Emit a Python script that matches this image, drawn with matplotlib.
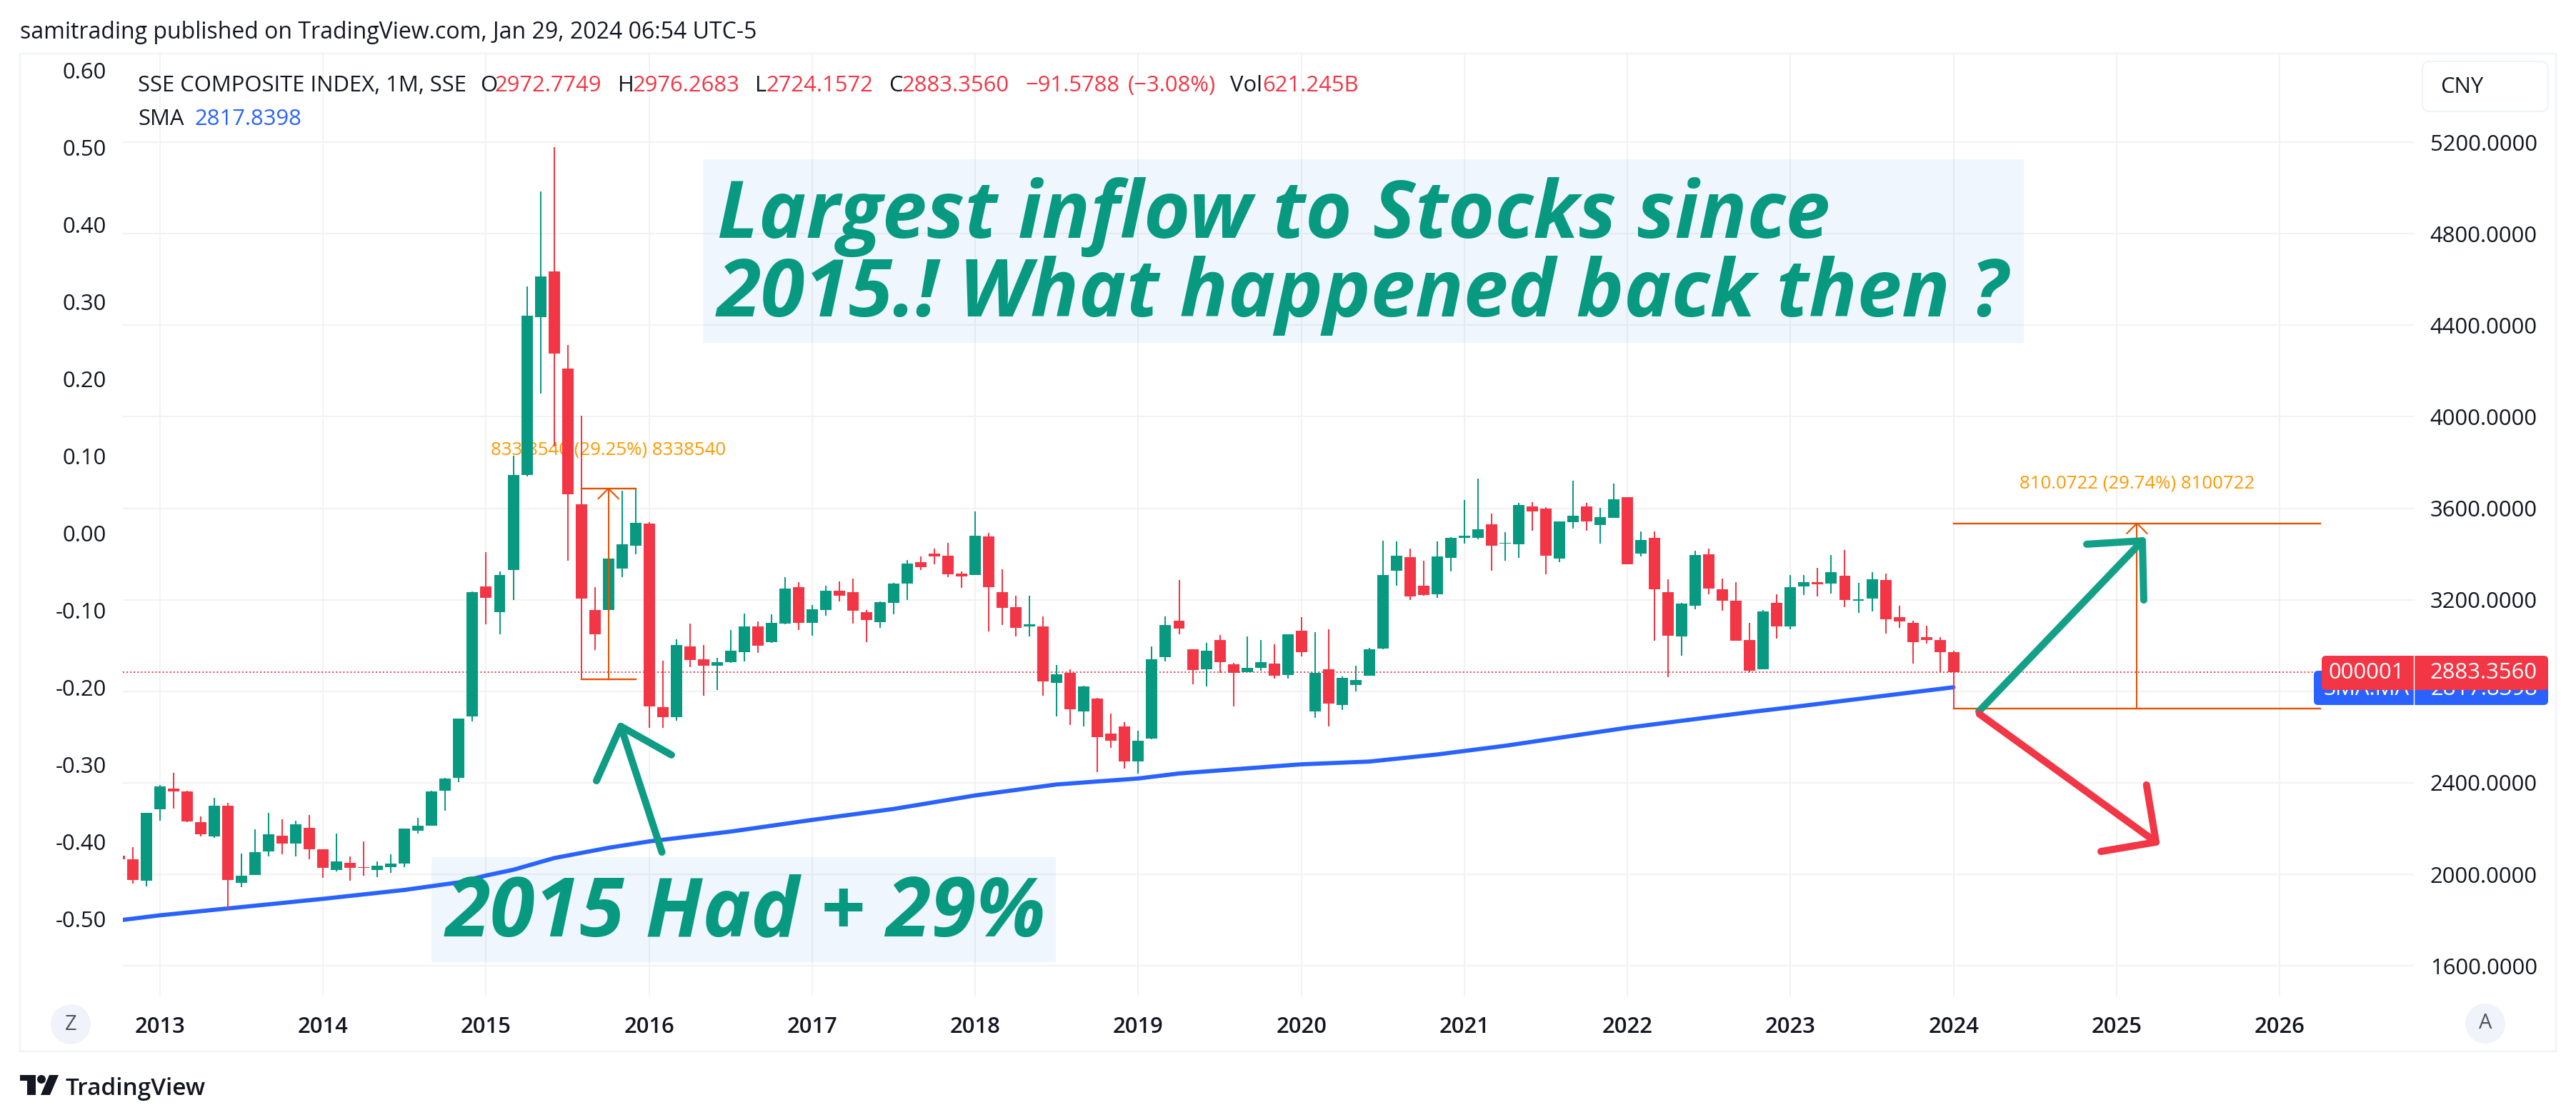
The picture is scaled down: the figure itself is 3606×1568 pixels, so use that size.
import matplotlib
matplotlib.use("Agg")
import matplotlib.pyplot as plt
from matplotlib.patches import Circle, FancyBboxPatch, Polygon, Rectangle

# monthly SSE composite, Oct 2012 .. Jan 2024
opens = [2082, 2067, 1972, 2283, 2374, 2362, 2227, 2165, 2299, 1962, 1996, 2099, 2170, 2133, 2202,
         2108, 2018, 2049, 2033, 2018, 2033, 2046, 2190, 2214, 2365, 2423, 2690,
         3259, 3146, 3329, 3745, 4437, 4634, 4212, 3616, 3156, 3156, 3335, 3437,
         3534, 2731, 2686, 2996, 2941, 2913, 2929, 2971, 3084, 3016, 3096, 3255,
         3100, 3156, 3239, 3233, 3146, 3102, 3188, 3271, 3365, 3403, 3393, 3315,
         3309, 3477, 3235, 3169, 3084, 3084, 2838, 2882, 2713, 2769, 2616, 2647,
         2494, 2594, 2950, 3109, 2984, 2897, 3024, 2919, 2885, 2904, 2922, 2871,
         3065, 2713, 2897, 2741, 2828, 2869, 2987, 3328, 3387, 3262, 3225, 3384,
         3471, 3471, 3531, 3445, 3444, 3608, 3599, 3380, 3540, 3608, 3527, 3558,
         3649, 3402, 3471, 3233, 3040, 3174, 3399, 3246, 3196, 3024, 2896, 3186,
         3083, 3258, 3277, 3271, 3305, 3197, 3205, 3286, 3124, 3099, 3036, 3024,
         2972.77]
highs = [2082, 2120, 2268, 2389, 2443, 2367, 2252, 2333, 2312, 2090, 2196, 2268, 2240, 2234, 2259,
         2111, 2177, 2078, 2145, 2058, 2087, 2199, 2246, 2365, 2421, 2682, 3238,
         3407, 3323, 3831, 4570, 4986, 5178, 4315, 4006, 3255, 3455, 3678, 3686,
         3538, 2935, 3028, 3096, 3002, 2945, 3068, 3140, 3104, 3138, 3299, 3277,
         3176, 3261, 3281, 3293, 3154, 3194, 3275, 3375, 3391, 3423, 3450, 3324,
         3587, 3493, 3334, 3218, 3218, 3128, 2916, 2897, 2825, 2772, 2703, 2666,
         2629, 2997, 3128, 3287, 2984, 3012, 3047, 2925, 3041, 3024, 3006, 3049,
         3125, 3059, 3072, 2866, 2912, 2991, 3459, 3455, 3424, 3372, 3455, 3475,
         3637, 3730, 3577, 3496, 3624, 3627, 3606, 3543, 3721, 3624, 3602, 3709,
         3649, 3499, 3499, 3290, 3186, 3415, 3424, 3293, 3277, 3099, 3155, 3224,
         3308, 3308, 3340, 3396, 3418, 3274, 3321, 3315, 3174, 3108, 3086, 3036,
         2976.27]
lows = [2067, 1959, 1946, 2235, 2288, 2227, 2165, 2159, 1846, 1943, 1996, 2078, 2089, 2078, 2067,
        1984, 2013, 1971, 1995, 1989, 2008, 2031, 2177, 2214, 2277, 2403, 2668,
        3094, 3048, 3200, 3739, 4100, 3871, 3371, 2851, 2980, 3132, 3299, 3399,
        2640, 2640, 2672, 2905, 2781, 2807, 2925, 2931, 2968, 3012, 3092, 3068,
        3044, 3132, 3194, 3096, 3016, 3078, 3138, 3200, 3331, 3355, 3299, 3252,
        3309, 3063, 3090, 3041, 3041, 2782, 2691, 2653, 2645, 2448, 2554, 2463,
        2442, 2591, 2931, 3049, 2831, 2822, 2880, 2734, 2885, 2891, 2856, 2856,
        2953, 2685, 2647, 2719, 2800, 2869, 2984, 3262, 3200, 3218, 3209, 3324,
        3446, 3465, 3328, 3372, 3384, 3502, 3312, 3365, 3512, 3502, 3446, 3558,
        3355, 3390, 3021, 2861, 2955, 3158, 3224, 3152, 3021, 2883, 2896, 3030,
        3071, 3221, 3215, 3227, 3168, 3143, 3149, 3052, 3077, 2921, 3008, 2880,
        2724.16]
closes = [2067, 1975, 2268, 2383, 2362, 2230, 2174, 2299, 1975, 1993, 2096, 2174, 2136, 2218, 2111,
          2027, 2055, 2027, 2027, 2037, 2046, 2199, 2214, 2362, 2418, 2682, 3233,
          3208, 3309, 3745, 4441, 4612, 4275, 3662, 3205, 3050, 3381, 3443, 3536,
          2735, 2686, 3002, 2937, 2913, 2929, 2978, 3084, 3000, 3100, 3249, 3100,
          3160, 3239, 3217, 3152, 3112, 3190, 3271, 3359, 3343, 3390, 3312, 3303,
          3481, 3256, 3165, 3078, 3094, 2844, 2875, 2722, 2822, 2600, 2585, 2492,
          2585, 2941, 3090, 3075, 2894, 2978, 2928, 2881, 2904, 2928, 2869, 3049,
          2972, 2880, 2747, 2860, 2850, 2984, 3309, 3393, 3215, 3221, 3390, 3471,
          3481, 3509, 3436, 3450, 3614, 3587, 3393, 3543, 3568, 3543, 3562, 3639,
          3355, 3461, 3246, 3043, 3183, 3396, 3249, 3196, 3021, 2890, 3149, 3083,
          3255, 3277, 3268, 3321, 3199, 3202, 3290, 3115, 3105, 3015, 3024, 2971,
          2883.36]

# SMA read at a handful of months
sma_months = [0, 3, 15, 21, 25, 27, 29, 32, 36, 39, 45, 51, 57, 63, 69, 75, 78, 87, 92, 97, 102, 111, 120, 123, 135]
sma_values = [1799, 1821, 1893, 1932, 1965, 1995, 2020, 2071, 2116, 2144, 2187, 2238, 2286, 2345, 2393, 2419,
              2441, 2481, 2493, 2524, 2562, 2641, 2709, 2730, 2817.84]

year_ticks = [3 + 12 * i for i in range(14)]
year_labels = [str(2013 + i) for i in range(14)]
price_ticks = [1600, 2000, 2400, 2800, 3200, 3600, 4000, 4400, 4800, 5200]
left_ticks = [0.60, 0.50, 0.40, 0.30, 0.20, 0.10, 0.00, -0.10, -0.20, -0.30, -0.40, -0.50]

UP = "#089981"
DOWN = "#F23645"
ORANGE = "#E65100"
LABEL = "#FF9800"
BLUE = "#2962FF"
INK = "#131722"
FONT = "Open Sans"
W, H = 3606, 1568
PT = 22.3

plt.rcParams["font.family"] = [FONT, "DejaVu Sans"]

fig = plt.figure(figsize=(W / 100, H / 100), dpi=100)

# plot area, pixel box 172..3380 x 75..1395
ax = fig.add_axes([172 / W, 1 - 1395 / H, 3208 / W, 1320 / H])
ax.set_xlim(0.266, 168.93)
ax.set_ylim(1466.4, 5587.5)
ax.set_axisbelow(True)
for s in ax.spines.values():
    s.set_visible(False)

ax.set_xticks(year_ticks)
ax.set_xticklabels(year_labels, fontsize=PT, fontweight="semibold", color=INK)
ax.set_yticks(price_ticks)
ax.set_yticklabels([])
ax.tick_params(axis="x", length=0, pad=20)
ax.tick_params(axis="y", length=0)
ax.grid(True, axis="y", color="#F2F2F3", lw=1.5)
ax.grid(True, axis="x", color="#F0F1F3", lw=1.3)
for p in price_ticks:
    ax.text(1.0536, p, f"{p:.4f}", transform=ax.get_yaxis_transform(), fontsize=PT, color=INK, ha="right",
            va="center_baseline", clip_on=False)

# left scale is only labels
ax2 = ax.twinx()
ax2.yaxis.tick_left()
ax2.set_ylim(-0.6, 0.6222)
ax2.set_yticks(left_ticks)
ax2.set_yticklabels([f"{v:.2f}" for v in left_ticks], fontsize=PT, color=INK)
ax2.tick_params(axis="y", length=0, pad=16.5)
for s in ax2.spines.values():
    s.set_visible(False)
ax2.set_zorder(ax.get_zorder() - 1)
ax.patch.set_visible(False)

# candles
months = list(range(len(closes)))
colors = [UP if c >= o else DOWN for o, c in zip(opens, closes)]
ax.vlines(months, lows, highs, colors=colors, lw=1.45, zorder=3)
ax.bar(months, [abs(c - o) for o, c in zip(opens, closes)], bottom=[min(o, c) for o, c in zip(opens, closes)],
       width=0.84, color=colors, linewidth=0, zorder=3.1)

ax.plot(sma_months, sma_values, color=BLUE, lw=4.2, solid_capstyle="round", zorder=2.5)
ax.axhline(closes[-1], color=DOWN, lw=1.4, ls=(0, (1, 1.6)), zorder=2.2)


def price_range(x0, x1, low, high, text, text_price):
    mid = (x0 + x1) / 2
    ax.plot([x0, x1], [low, low], color=ORANGE, lw=1.7, zorder=4)
    ax.plot([x0, x1], [high, high], color=ORANGE, lw=1.7, zorder=4)
    ax.plot([mid, mid], [low, high], color=ORANGE, lw=1.5, zorder=4)
    ax.plot([mid - 0.74, mid, mid + 0.74], [high - 44, high, high - 44], color=ORANGE, lw=1.5, zorder=4)
    ax.text(mid, text_price, text, color=LABEL, fontsize=18.6, ha="center", va="center", zorder=1.5)


price_range(34, 38, 2852.6, 3686.4, "833.8540 (29.25%) 8338540", 3855)
price_range(135, 162, 2724.16, 3534.23, "810.0722 (29.74%) 8100722", 3708)


def hand_arrow(tail, tip, barb1, barb2, color):
    ax.plot(*zip(tail, tip), color=color, lw=7.2, solid_capstyle="round", zorder=5)
    ax.plot(*zip(barb1, tip, barb2), color=color, lw=7.2, solid_capstyle="round", solid_joinstyle="round", zorder=5)


hand_arrow((39.94, 2097), (36.91, 2647), (35.12, 2409), (40.64, 2522), "#0E9C85")
hand_arrow((136.86, 2712), (148.9, 3458), (144.8, 3443), (149.0, 3199), "#12A086")
hand_arrow((136.9, 2701), (149.9, 2141), (149.2, 2391), (145.85, 2100), DOWN)

# everything else sits on a pixel overlay
ov = fig.add_axes([0, 0, 1, 1], facecolor="none")
ov.set_xlim(0, W)
ov.set_ylim(H, 0)
ov.axis("off")

ov.add_patch(Rectangle((28, 75), 3550, 1397, fill=False, edgecolor="#F0F3FA", lw=1.6))
ov.text(28, 54, "samitrading published on TradingView.com, Jan 29, 2024 06:54 UTC-5", fontsize=23, color=INK)

header = [(193, "SSE COMPOSITE INDEX, 1M, SSE", INK), (672, "O", INK), (693, "2972.7749", DOWN),
          (865, "H", INK), (885.5, "2976.2683", DOWN), (1057, "L", INK), (1073, "2724.1572", DOWN),
          (1244, "C", INK), (1263, "2883.3560", DOWN), (1435, "\u221291.5788", DOWN), (1579, "(\u22123.08%)", DOWN),
          (1722, "Vol", INK), (1767, "621.245B", DOWN)]
for x, text, color in header:
    ov.text(x, 128, text, fontsize=PT, color=color)
ov.text(193, 175, "SMA", fontsize=PT, color=INK)
ov.text(272, 175, "2817.8398", fontsize=PT, color=BLUE)

ov.add_patch(FancyBboxPatch((3397, 92), 164, 58, boxstyle="round,pad=6,rounding_size=10", facecolor="white",
                            edgecolor="#F0F3FA", lw=1.6))
ov.text(3416, 130, "CNY", fontsize=PT, color=INK)

# note boxes
ov.add_patch(Rectangle((984, 223), 1848.5, 257, facecolor="#1E88E5", alpha=0.07, lw=0))
ov.add_patch(Rectangle((604, 1200), 874, 147, facecolor="#1E88E5", alpha=0.07, lw=0))
note = dict(color=UP, fontweight="bold", fontstyle="italic", family="Open Sans")
ov.text(1004, 333, "Largest inflow to Stocks since", fontsize=80.6, **note)
ov.text(1004, 443, "2015.! What happened back then ?", fontsize=80.6, **note)
ov.text(624, 1310, "2015 Had + 29%", fontsize=82, **note)

# axis price tags, red one covers the blue one
ov.add_patch(FancyBboxPatch((3243, 943), 320, 40, boxstyle="round,pad=4,rounding_size=6", facecolor=BLUE, lw=0,
                            zorder=5))
ov.text(3313, 965, "SMA:MA", fontsize=PT, color="white", ha="center", va="center", zorder=6)
ov.text(3552, 965, "2817.8398", fontsize=PT, color="white", ha="right", va="center", zorder=6)
ov.add_patch(FancyBboxPatch((3254, 922), 309, 40, boxstyle="round,pad=4,rounding_size=6", facecolor=DOWN, lw=0,
                            zorder=7))
ov.text(3313, 942, "000001", fontsize=PT, color="white", ha="center", va="center", zorder=8)
ov.text(3552, 942, "2883.3560", fontsize=PT, color="white", ha="right", va="center", zorder=8)
ov.plot([3379.3, 3379.3], [918, 987], color="white", lw=1, zorder=9)

# corner buttons
ov.add_patch(Circle((99, 1434), 28, facecolor="#F0F3FA", lw=0))
ov.text(99, 1434, "Z", fontsize=21, color="#50535E", ha="center", va="center")
ov.add_patch(Circle((3479, 1433), 28, facecolor="#F0F3FA", lw=0))
ov.text(3479, 1433, "A", fontsize=21, color="#50535E", ha="center", va="center")

# TradingView logo
ov.add_patch(Polygon([(28, 1505), (50, 1505), (50, 1533), (38, 1533), (38, 1513), (28, 1513)], facecolor=INK, lw=0))
ov.add_patch(Circle((58, 1511), 6, facecolor=INK, lw=0))
ov.add_patch(Polygon([(69, 1505), (82, 1505), (70, 1533), (57, 1533)], facecolor=INK, lw=0))
ov.text(92, 1533, "TradingView", fontsize=24, color=INK, fontweight="semibold")

fig.savefig("out.png", dpi=100)
